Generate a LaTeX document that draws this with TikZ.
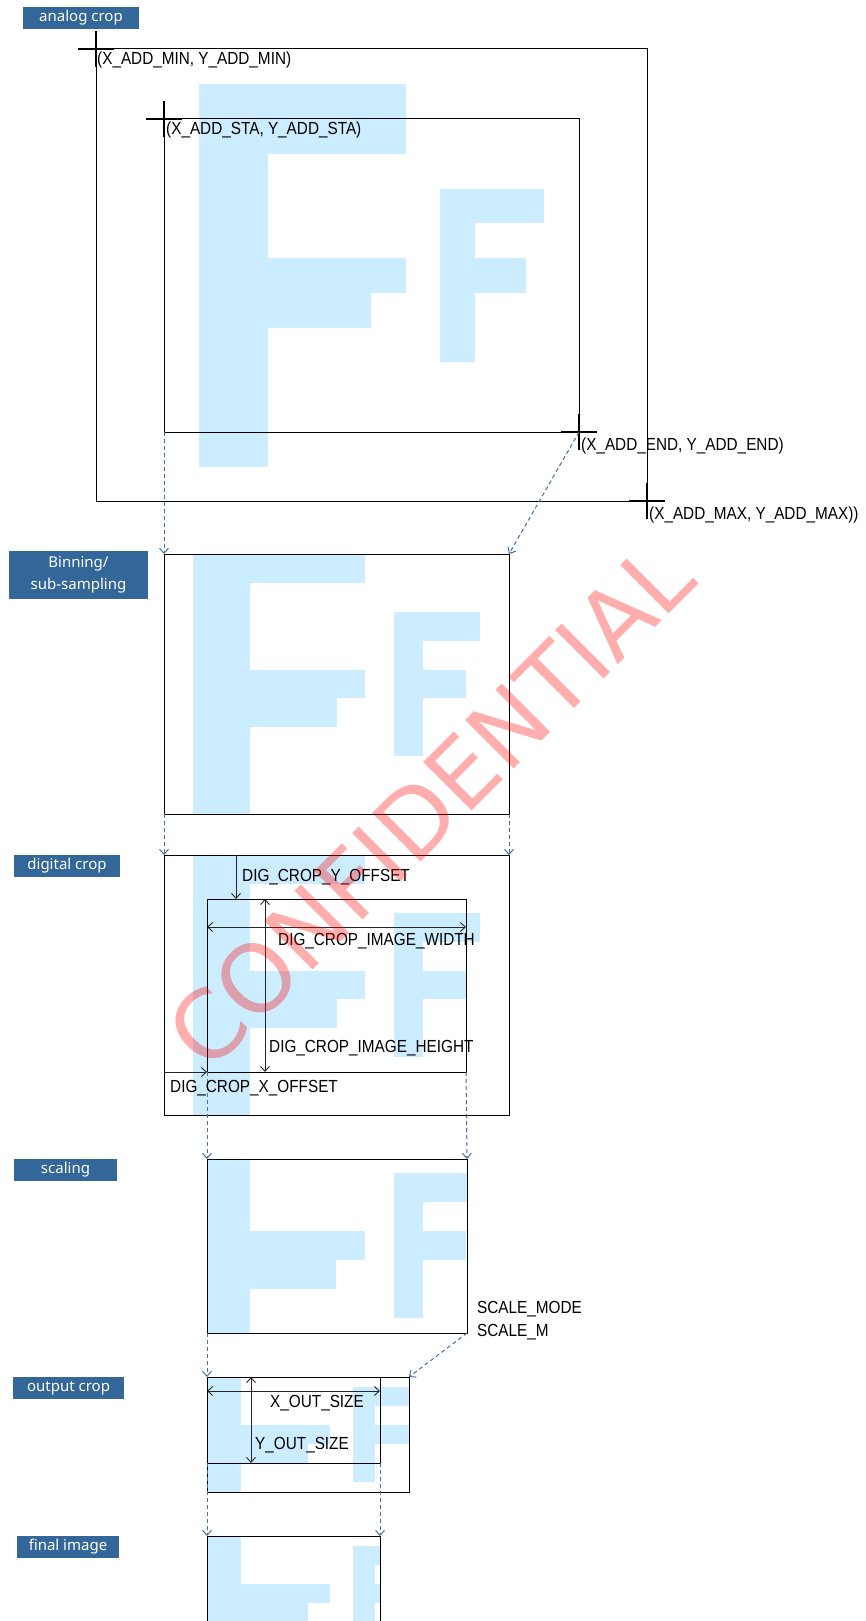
\documentclass[tikz,border=0pt]{standalone}
\usepackage{fontspec}
\setmainfont{Liberation Sans}
\newfontfamily\lblfont[FakeStretch=0.875]{Liberation Sans}
\newfontfamily\tagfont{Noto Sans}
\newfontfamily\wmfont{DejaVu Sans}
\usetikzlibrary{arrows.meta}
\definecolor{fblue}{RGB}{204,236,255}
\definecolor{tagblue}{RGB}{51,102,153}
\definecolor{dashblue}{RGB}{65,113,165}
\newcommand\Fpattern{%
  \fill[fblue] (1,-1) rectangle (3,10);
  \fill[fblue] (3,-1) rectangle (7,1);
  \fill[fblue] (3,4) rectangle (7,5);
  \fill[fblue] (3,5) rectangle (6,6);
  \fill[fblue] (8,2) rectangle (9,7);
  \fill[fblue] (9,2) rectangle (11,3);
  \fill[fblue] (9,4) rectangle (10.5,5);
}
\tikzset{
  tagbox/.style={fill=tagblue, text=white, font=\tagfont\fontsize{15}{22.5}\selectfont, inner sep=0pt, align=center},
  frame/.style={draw=black, line width=1pt},
  crossmark/.style={draw=black, line width=2pt},
  flow/.style={draw=dashblue, line width=1pt, dash pattern=on 4pt off 3pt, -{Straight Barb[length=5pt,width=9pt]}},
  dimline/.style={draw=black!85, line width=0.9pt},
  dimarrow/.style={dimline, -{Straight Barb[length=5pt,width=9pt]}},
  dimboth/.style={dimline, {Straight Barb[length=5pt,width=9pt]}-{Straight Barb[length=5pt,width=9pt]}},
  lbl/.style={font=\lblfont\fontsize{17.5}{20}\selectfont, inner sep=0pt, anchor=base west},
}
\begin{document}
\begin{tikzpicture}[x=1pt, y=-1pt]
\useasboundingbox[fill=white] (0,0) rectangle (866,1621);

% ---------- corner coordinates ----------
\coordinate (amin) at (96,49);   \coordinate (amax) at (647,501);
\coordinate (asta) at (164,119); \coordinate (aend) at (579,432);
\coordinate (astaBL) at (164,432);
\coordinate (binTL) at (164,554); \coordinate (binBR) at (509,814);
\coordinate (binTR) at (509,554); \coordinate (binBL) at (164,814);
\coordinate (digTL) at (164,855); \coordinate (digBR) at (509,1115);
\coordinate (digTR) at (509,855);
\coordinate (dcTL) at (207,899);  \coordinate (dcBR) at (466,1072);
\coordinate (dcBL) at (207,1072);
\coordinate (sclTL) at (207,1159); \coordinate (sclBR) at (467,1333);
\coordinate (sclTR) at (467,1159); \coordinate (sclBL) at (207,1333);
\coordinate (outTL) at (207,1377); \coordinate (outBR) at (409,1492);
\coordinate (outTR) at (409,1377);
\coordinate (ocBR) at (380,1463); \coordinate (ocBL) at (207,1463);
\coordinate (finTL) at (207,1536); \coordinate (finBR) at (380,1640);
\coordinate (finTR) at (380,1536);

% ---------- F patterns ----------
\begin{scope}
  \clip (amin) rectangle (amax);
  \begin{scope}[shift={(164,119)}, x=34.5pt, y=-34.78pt] \Fpattern \end{scope}
\end{scope}
\begin{scope}
  \clip (binTL) rectangle (binBR);
  \begin{scope}[shift={(164,554)}, x=28.75pt, y=-28.89pt] \Fpattern \end{scope}
\end{scope}
\begin{scope}
  \clip (digTL) rectangle (digBR);
  \begin{scope}[shift={(164,855)}, x=28.75pt, y=-28.89pt] \Fpattern \end{scope}
\end{scope}
\begin{scope}
  \clip (sclTL) rectangle (sclBR);
  \begin{scope}[shift={(163.9,1115.7)}, x=28.75pt, y=-28.89pt] \Fpattern \end{scope}
\end{scope}
\begin{scope}
  \clip (outTL) rectangle (outBR);
  \begin{scope}[shift={(173.3,1348.2)}, x=22.44pt, y=-19.17pt] \Fpattern \end{scope}
\end{scope}
\begin{scope}
  \clip (finTL) rectangle (finBR);
  \begin{scope}[shift={(173.3,1507.2)}, x=22.44pt, y=-19.17pt] \Fpattern \end{scope}
\end{scope}

% ---------- frames ----------
\draw[frame] (amin) rectangle (amax);
\draw[frame] (asta) rectangle (aend);
\draw[frame] (binTL) rectangle (binBR);
\draw[frame] (digTL) rectangle (digBR);
\draw[frame] (dcTL) rectangle (dcBR);
\draw[frame] (sclTL) rectangle (sclBR);
\draw[frame] (outTL) rectangle (outBR);
\draw[frame] (outTL) rectangle (ocBR);
\draw[frame] (finTL) rectangle (finBR);

% ---------- crosses ----------
\foreach \c in {amin, asta, aend, amax}
  \draw[crossmark] (\c) ++(-18,0) -- ++(36,0) (\c) ++(0,-18) -- ++(0,36);

% ---------- flow connectors ----------
\draw[flow] (astaBL) -- (binTL);
\draw[flow] (aend) -- (binTR);
\draw[flow] (binBL) -- (digTL);
\draw[flow] (binBR) -- (digTR);
\draw[flow] (dcBL) -- (sclTL);
\draw[flow] (dcBR) -- (sclTR);
\draw[flow] (sclBL) -- (outTL);
\draw[flow] (sclBR) -- (outTR);
\draw[flow] (ocBL) -- (finTL);
\draw[flow] (ocBR) -- (finTR);

% ---------- dimension arrows ----------
\coordinate (yoffA) at (236,855);  \coordinate (yoffB) at (236,899);
\coordinate (xoffA) at (164,1072); \coordinate (xoffB) at (207,1072);
\coordinate (wA) at (207,927);     \coordinate (wB) at (466,927);
\coordinate (hA) at (265,899);     \coordinate (hB) at (265,1072);
\coordinate (xoA) at (207,1391);   \coordinate (xoB) at (380,1391);
\coordinate (yoA) at (251,1377);   \coordinate (yoB) at (251,1463);
\draw[dimarrow] (yoffA) -- (yoffB);
\draw[dimarrow] (xoffA) -- (xoffB);
\draw[dimboth] (wA) -- (wB);
\draw[dimboth] (hA) -- (hB);
\draw[dimboth] (xoA) -- (xoB);
\draw[dimboth] (yoA) -- (yoB);

% ---------- labels ----------
\node[lbl] (lmin) at (97,65) {(X\_ADD\_MIN, Y\_ADD\_MIN)};
\node[lbl] (lsta) at (166,134.5) {(X\_ADD\_STA, Y\_ADD\_STA)};
\node[lbl] (lend) at (581,450) {(X\_ADD\_END, Y\_ADD\_END)};
\node[lbl] (lmax) at (649,519) {(X\_ADD\_MAX, Y\_ADD\_MAX))};
\node[lbl] (lyoff) at (242,881) {DIG\_CROP\_Y\_OFFSET};
\node[lbl] (lw) at (278,945) {DIG\_CROP\_IMAGE\_WIDTH};
\node[lbl] (lh) at (269,1052) {DIG\_CROP\_IMAGE\_HEIGHT};
\node[lbl] (lxoff) at (170,1092) {DIG\_CROP\_X\_OFFSET};
\node[lbl] (lsm) at (477,1313) {SCALE\_MODE};
\node[lbl] (lsmm) at (477,1336) {SCALE\_M};
\node[lbl] (lxo) at (270,1407) {X\_OUT\_SIZE};
\node[lbl] (lyo) at (255,1449) {Y\_OUT\_SIZE};

% ---------- stage tags ----------
\node[tagbox, minimum width=116pt, minimum height=22pt] (t1) at (81,18) {analog crop};
\node[tagbox, minimum width=139pt, minimum height=48pt] (t2) at (78.5,575) {Binning/\\sub-sampling};
\node[tagbox, minimum width=106pt, minimum height=22pt] (t3) at (67,866) {digital crop};
\node[tagbox, minimum width=103pt, minimum height=22pt] (t4) at (65.5,1170) {scaling};
\node[tagbox, minimum width=111pt, minimum height=22pt] (t5) at (68.5,1388) {output crop};
\node[tagbox, minimum width=102pt, minimum height=22pt] (t6) at (68,1547) {final image};

% ---------- watermark ----------
\node[rotate=45, anchor=base west, inner sep=0pt, text=red, text opacity=0.32,
      font=\wmfont\fontsize{94}{94}\selectfont] (wm) at (208,1075) {CONFIDENTIAL};
\end{tikzpicture}
\end{document}
